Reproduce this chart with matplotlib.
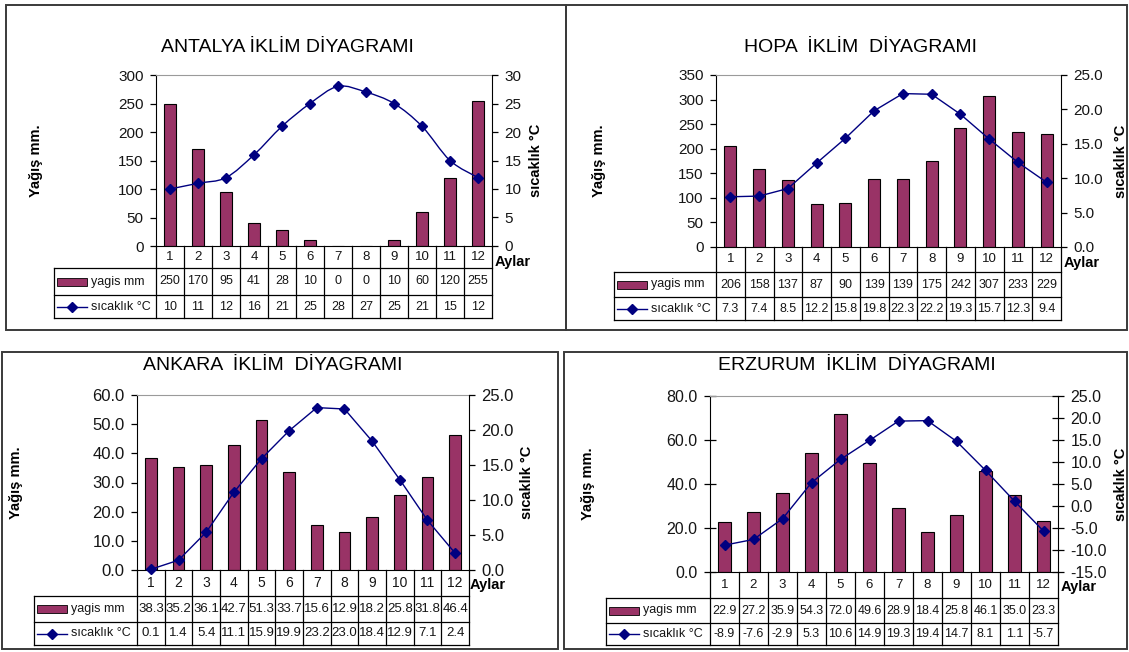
import numpy as np
import matplotlib
matplotlib.use("Agg")
import matplotlib.pyplot as plt
from matplotlib.transforms import Affine2D, blended_transform_factory
from matplotlib.path import Path
from matplotlib.patches import PathPatch, Rectangle
from matplotlib.lines import Line2D

plt.rcParams['font.family'] = ['Liberation Sans', 'DejaVu Sans']

# ---- data -------------------------------------------------------------
months = list(range(1, 13))

antalya_rain = [250, 170, 95, 41, 28, 10, 0, 0, 10, 60, 120, 255]
antalya_temp = [10, 11, 12, 16, 21, 25, 28, 27, 25, 21, 15, 12]

hopa_rain = [206, 158, 137, 87, 90, 139, 139, 175, 242, 307, 233, 229]
hopa_temp = [7.3, 7.4, 8.5, 12.2, 15.8, 19.8, 22.3, 22.2, 19.3, 15.7, 12.3, 9.4]

ankara_rain = [38.3, 35.2, 36.1, 42.7, 51.3, 33.7, 15.6, 12.9, 18.2, 25.8, 31.8, 46.4]
ankara_temp = [0.1, 1.4, 5.4, 11.1, 15.9, 19.9, 23.2, 23.0, 18.4, 12.9, 7.1, 2.4]

erzurum_rain = [22.9, 27.2, 35.9, 54.3, 72.0, 49.6, 28.9, 18.4, 25.8, 46.1, 35.0, 23.3]
erzurum_temp = [-8.9, -7.6, -2.9, 5.3, 10.6, 14.9, 19.3, 19.4, 14.7, 8.1, 1.1, -5.7]

# ---- figure -----------------------------------------------------------
W, H = 1129, 652
fig = plt.figure(figsize=(W / 100, H / 100), dpi=100)
fig.patch.set_facecolor('white')
PX = Affine2D().scale(1 / W, -1 / H).translate(0, 1) + fig.transFigure

BAR = '#993366'
LINE = '#000080'
FRAME = '#3a3a3a'
TXT = '#151515'

for (l, t, r, b) in [(6, 5, 566, 330), (566, 5, 1127, 330),
                     (2, 352, 558, 649), (564, 352, 1127, 649)]:
    fig.add_artist(Rectangle((l, t), r - l, b - t, transform=PX, fill=False,
                             ec=FRAME, lw=1.4))


def smooth_path(x, y):
    pts = np.column_stack([x, y]).astype(float)
    verts = [pts[0]]
    codes = [Path.MOVETO]
    n = len(pts)
    for i in range(n - 1):
        p0 = pts[i - 1] if i > 0 else pts[i]
        p1, p2 = pts[i], pts[i + 1]
        p3 = pts[i + 2] if i + 2 < n else pts[i + 1]
        verts += [p1 + (p2 - p0) / 6, p2 - (p3 - p1) / 6, p2]
        codes += [Path.CURVE4] * 3
    return Path(verts, codes)


def panel(title, rain, temp, box, tleft, rows, title_xy, ylab_x, rlab_x,
          lticks, lfmt, rticks, rfmt, rain_fmt, temp_fmt, smooth, tickdir,
          aylar_dx, aylar_dy, tick_fs, cell_fs):
    l, t, r, b = box
    ax = fig.add_axes([l / W, 1 - b / H, (r - l) / W, (b - t) / H])
    ax.bar(months, rain, width=0.42, color=BAR, edgecolor='black',
           linewidth=0.8, zorder=2)
    ax.set_xlim(0.5, 12.5)
    ax.set_ylim(lticks[0], lticks[-1])
    ax.set_yticks(lticks)
    ax.set_yticklabels([lfmt.format(v) for v in lticks])
    ax.set_xticks([])
    tl = 8 if tickdir == 'inout' else 4
    ax.tick_params(axis='y', direction=tickdir, length=tl, width=0.9,
                   pad=5, labelsize=tick_fs, labelcolor=TXT)

    ax2 = ax.twinx()
    ax2.set_xlim(0.5, 12.5)
    ax2.set_ylim(rticks[0], rticks[-1])
    ax2.set_yticks(rticks)
    ax2.set_yticklabels([rfmt.format(v) for v in rticks])
    ax2.tick_params(axis='y', direction=tickdir, length=tl, width=0.9,
                    pad=5, labelsize=tick_fs, labelcolor=TXT)

    if smooth:
        ax2.add_patch(PathPatch(smooth_path(months, temp), fill=False,
                                ec=LINE, lw=1.0, clip_on=False))
        ax2.plot(months, temp, ls='none', marker='D', ms=5, color=LINE,
                 clip_on=False)
    else:
        ax2.plot(months, temp, color=LINE, lw=1.0, marker='D', ms=5,
                 clip_on=False)

    for a in (ax, ax2):
        a.patch.set_visible(False)
    ax.spines['right'].set_visible(False)
    ax.spines['top'].set_color('#9a9a9a')
    ax.spines['left'].set_color('black')
    ax.spines['bottom'].set_color('black')
    for s in ('left', 'top', 'bottom'):
        ax2.spines[s].set_visible(False)
    ax2.spines['right'].set_color('black')

    # data table under the plot
    y0, y1, y2, y3 = rows
    bt = blended_transform_factory(ax.transData, PX)
    kw = dict(color='black', lw=0.9)
    for yy in (y1, y2, y3):
        fig.add_artist(Line2D([tleft, r], [yy, yy], transform=PX, **kw))
    fig.add_artist(Line2D([tleft, tleft], [y1, y3], transform=PX, **kw))
    fig.add_artist(Line2D([l, l], [y0, y3], transform=PX, **kw))
    for m in months:
        fig.add_artist(Line2D([m + 0.5, m + 0.5], [y0, y3], transform=bt, **kw))
    for m, rv, tv in zip(months, rain, temp):
        fig.text(m, (y0 + y1) / 2, str(m), transform=bt, ha='center',
                 va='center', fontsize=cell_fs + 0.5, color=TXT)
        fig.text(m, (y1 + y2) / 2, rain_fmt.format(rv), transform=bt,
                 ha='center', va='center', fontsize=cell_fs, color=TXT)
        fig.text(m, (y2 + y3) / 2, temp_fmt.format(tv), transform=bt,
                 ha='center', va='center', fontsize=cell_fs, color=TXT)
    ym1 = (y1 + y2) / 2
    ym2 = (y2 + y3) / 2
    fig.add_artist(Rectangle((tleft + 3, ym1 - 4), 30, 8, transform=PX,
                             fc=BAR, ec='black', lw=0.6))
    fig.add_artist(Line2D([tleft + 3, tleft + 33], [ym2, ym2], transform=PX,
                          color=LINE, lw=1.0))
    fig.add_artist(Line2D([tleft + 18], [ym2], transform=PX, color=LINE,
                          marker='D', ms=5, ls='none'))
    fig.text(tleft + 37, ym1, 'yagis mm', transform=PX, ha='left',
             va='center', fontsize=9, color=TXT)
    fig.text(tleft + 37, ym2, 'sıcaklık °C', transform=PX, ha='left',
             va='center', fontsize=9, color=TXT)

    fig.text(title_xy[0], title_xy[1], title, transform=PX, ha='center',
             va='center', fontsize=14, color='black')
    fig.text(ylab_x, (t + b) / 2, 'Yağış mm.', transform=PX, rotation=90,
             ha='center', va='center', fontsize=10.5, fontweight='bold')
    fig.text(rlab_x, (t + b) / 2, 'sıcaklık °C', transform=PX, rotation=90,
             ha='center', va='center', fontsize=10.5, fontweight='bold')
    fig.text(r + aylar_dx, y0 + aylar_dy, 'Aylar', transform=PX, ha='left',
             va='center', fontsize=10.5, fontweight='bold')


panel('ANTALYA İKLİM DİYAGRAMI', antalya_rain, antalya_temp,
      (156, 75, 492, 246), 54, (246, 268, 295, 318), (287, 47), 36, 536,
      list(range(0, 301, 50)), '{:.0f}', list(range(0, 31, 5)), '{:.0f}',
      '{:.0f}', '{:.0f}', True, 'out', 3, 16, 11, 9)

panel('HOPA  İKLİM  DİYAGRAMI', hopa_rain, hopa_temp,
      (716, 75, 1061, 247), 614, (247, 272, 297, 320), (860, 47), 599, 1121,
      list(range(0, 351, 50)), '{:.0f}', list(range(0, 26, 5)), '{:.1f}',
      '{:.0f}', '{:.1f}', False, 'out', 3, 16, 11, 9)

panel('ANKARA  İKLİM  DİYAGRAMI', ankara_rain, ankara_temp,
      (137, 395, 469, 570), 34, (570, 596, 622, 645), (273, 366), 16, 527,
      list(range(0, 61, 10)), '{:.1f}', list(range(0, 26, 5)), '{:.1f}',
      '{:.1f}', '{:.1f}', False, 'out', 1, 15, 12, 9.5)

panel('ERZURUM  İKLİM  DİYAGRAMI', erzurum_rain, erzurum_temp,
      (710, 396, 1058, 572), 606, (572, 598, 623, 645), (857, 366), 588, 1121,
      list(range(0, 81, 20)), '{:.1f}', list(range(-15, 26, 5)), '{:.1f}',
      '{:.1f}', '{:.1f}', False, 'inout', 3, 15, 11.5, 9)

fig.savefig('out.png', dpi=100)
